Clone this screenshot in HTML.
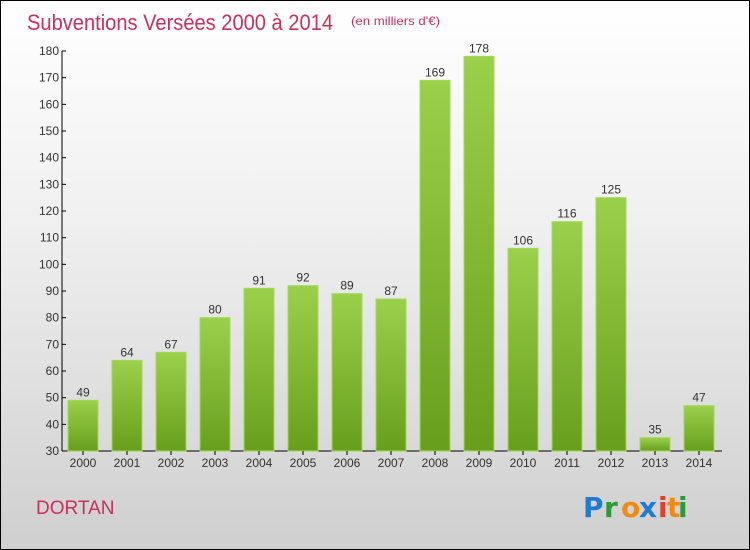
<!DOCTYPE html>
<html><head><meta charset="utf-8"><style>
body{margin:0;}
#wrap{position:relative;width:748px;height:548px;border:1px solid #000;background:linear-gradient(#ffffff,#f0f0f0 40%,#cfcfcf);font-family:"Liberation Sans",sans-serif;overflow:hidden}
</style></head><body>
<div id="wrap">
<svg id="chart" width="748" height="548">
<defs><linearGradient id="g" x1="0" y1="0" x2="0" y2="1"><stop offset="0" stop-color="#9bd04b"/><stop offset="1" stop-color="#679f1c"/></linearGradient></defs>
<text x="26" y="29" font-size="22" fill="#c8305e" textLength="306" lengthAdjust="spacingAndGlyphs">Subventions Versées 2000 à 2014</text>
<text x="350" y="24" font-size="12" fill="#c8305e" textLength="89" lengthAdjust="spacingAndGlyphs">(en milliers d'€)</text>
<text x="35" y="513" font-size="19" fill="#c8305e">DORTAN</text>
<g font-size="28" font-weight="bold" font-family="'DejaVu Sans',sans-serif">
<text x="582" y="516" fill="#1f7bd0">P</text><text x="603" y="516" fill="#2a9a3a">r</text><text x="620" y="516" fill="#f08a10">o</text><text x="638" y="516" fill="#1f7bd0">x</text><text x="657" y="516" fill="#e0402a">i</text><text x="666" y="516" fill="#f08a10">t</text><text x="677" y="516" fill="#2a9a3a">i</text>
</g>
<g id="plot"></g>
</svg>
</div>
<script>
const categories=["2000","2001","2002","2003","2004","2005","2006","2007","2008","2009","2010","2011","2012","2013","2014"];
const values=[49,64,67,80,91,92,89,87,169,178,106,116,125,35,47];
const yTicks=[30,40,50,60,70,80,90,100,110,120,130,140,150,160,170,180];
const NS="http://www.w3.org/2000/svg";
const g=document.getElementById('plot');
const yMin=30,yMax=180,pTop=50,pBot=450,pLeft=61,pRight=721;
const y=v=>pBot-(v-yMin)/(yMax-yMin)*(pBot-pTop);
const step=(pRight-pLeft)/categories.length;
const x=i=>pLeft+step*(i+0.5)-1;
function mk(t,a,p){const e=document.createElementNS(NS,t);for(const k in a)e.setAttribute(k,a[k]);(p||g).appendChild(e);return e;}
let ax=mk('line',{x1:pLeft,y1:pTop,x2:pLeft,y2:pBot,stroke:'#000'});


let xa=mk('line',{x1:pLeft,y1:pBot,x2:pRight,y2:pBot,stroke:'#000'});


yTicks.forEach(v=>{
 const tk=mk('line',{x1:pLeft,y1:y(v),x2:pLeft+4,y2:y(v),stroke:'#000'});
 
 
 const t=mk('text',{x:pLeft-3,y:y(v)+4,'font-size':12,fill:'#333','text-anchor':'end'});
 t.textContent=v;
 
 
});
categories.forEach((c,i)=>{
 const v=values[i];
 const r=mk('rect',{x:x(i)-15,y:y(v),width:30,height:pBot-y(v),fill:'url(#g)',stroke:'#a5d85c','stroke-width':1});
 
 
 const l=mk('text',{x:x(i),y:y(v)-4,'font-size':12,fill:'#333','text-anchor':'middle'});
 l.textContent=v;
 
 
 const tk=mk('line',{x1:x(i),y1:pBot,x2:x(i),y2:pBot+4,stroke:'#000'});
 
 
 const t=mk('text',{x:x(i),y:pBot+16,'font-size':12,fill:'#333','text-anchor':'middle'});
 t.textContent=c;
 
 
});
</script>
</body></html>
